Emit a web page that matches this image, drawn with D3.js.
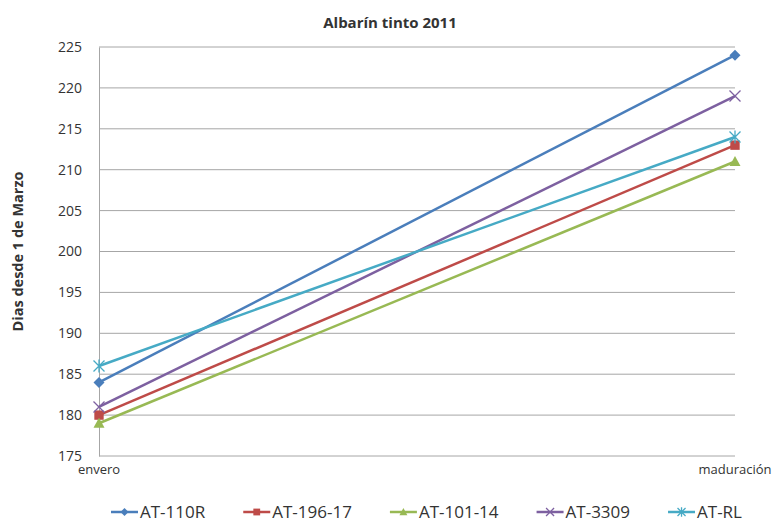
<!DOCTYPE html>
<html>
<head>
<meta charset="utf-8">
<script src="https://cdn.jsdelivr.net/npm/d3@7"></script>
<style>
  html, body { margin: 0; padding: 0; background: #fff; }
  svg { display: block; }
  text { font-family: "Open Sans", "DejaVu Sans", sans-serif; fill: #333; }
</style>
</head>
<body>
<svg id="chart" width="775" height="522"></svg>
<script>
// Phenology dates (days since 1 March) per rootstock
const categories = ["envero", "maduración"];
const seriesNames = ["AT-110R", "AT-196-17", "AT-101-14", "AT-3309", "AT-RL"];
const at110R  = [184, 224];
const at19617 = [180, 213];
const at10114 = [179, 211];
const at3309  = [181, 219];
const atRL    = [186, 214];
const yTicks = [175, 180, 185, 190, 195, 200, 205, 210, 215, 220, 225];
const colors = ["#4A7EBB", "#BE4B48", "#98B954", "#7D60A0", "#46AAC5"];
const markers = ["diamond", "square", "triangle", "cross", "star"];

const series = seriesNames.map((name, i) => ({
  name, color: colors[i], marker: markers[i],
  values: [at110R, at19617, at10114, at3309, atRL][i]
}));

const svg = d3.select("#chart");
const margin = { left: 99, right: 40, top: 47, bottom: 66 };
const W = 775, H = 522;

const x = d3.scalePoint().domain(categories)
  .range([margin.left, W - margin.right]);
const y = d3.scaleLinear().domain([175, 225])
  .range([H - margin.bottom, margin.top]);

// gridlines
svg.append("g").selectAll("line").data(yTicks.slice(1)).join("line")
  .attr("x1", margin.left).attr("x2", W - margin.right)
  .attr("y1", d => y(d)).attr("y2", d => y(d))
  .attr("stroke", "#a6a6a6").attr("stroke-width", 1);

// y axis
const yAxis = svg.append("g")
  .attr("transform", `translate(${margin.left},0)`)
  .call(d3.axisLeft(y).tickValues(yTicks).tickSize(0).tickPadding(17));
yAxis.select(".domain").attr("stroke", "#a6a6a6");
yAxis.selectAll("text").style("font-size", "14px").attr("fill", "#333")
  .style("font-family", "'Open Sans', sans-serif");

// x axis baseline and category labels
svg.append("line")
  .attr("x1", margin.left).attr("x2", W - margin.right)
  .attr("y1", y(175)).attr("y2", y(175))
  .attr("stroke", "#a6a6a6");
svg.append("g").selectAll("text").data(categories).join("text")
  .attr("x", d => x(d)).attr("y", y(175) + 18)
  .attr("text-anchor", "middle")
  .style("font-size", "13px")
  .text(d => d);

// lines
const line = d3.line().x((d, i) => x(categories[i])).y(d => y(d));
svg.append("g").selectAll("path").data(series).join("path")
  .attr("d", s => line(s.values))
  .attr("fill", "none")
  .attr("stroke", s => s.color)
  .attr("stroke-width", 2.5);

// marker shapes
function drawMarker(g, type, color, size) {
  const r = size / 2;
  if (type === "diamond") {
    g.append("path").attr("d", `M0,${-r}L${r},0L0,${r}L${-r},0Z`).attr("fill", color);
  } else if (type === "square") {
    g.append("rect").attr("x", -r * 0.85).attr("y", -r * 0.85)
      .attr("width", r * 1.7).attr("height", r * 1.7).attr("fill", color);
  } else if (type === "triangle") {
    g.append("path").attr("d", `M0,${-r}L${r},${r * 0.8}L${-r},${r * 0.8}Z`).attr("fill", color);
  } else if (type === "cross") {
    g.append("path").attr("d", `M${-r},${-r}L${r},${r}M${-r},${r}L${r},${-r}`)
      .attr("stroke", color).attr("stroke-width", 1.3);
  } else if (type === "star") {
    g.append("path").attr("d", `M${-r},${-r}L${r},${r}M${-r},${r}L${r},${-r}M0,${-r * 1.2}L0,${r * 1.2}`)
      .attr("stroke", color).attr("stroke-width", 1.3);
  }
}

series.forEach(s => {
  s.values.forEach((v, i) => {
    const g = svg.append("g").attr("transform", `translate(${x(categories[i])},${y(v)})`);
    drawMarker(g, s.marker, s.color, 11);
  });
});

// title
svg.append("text")
  .attr("x", 390).attr("y", 28)
  .attr("text-anchor", "middle")
  .style("font-size", "15px").style("font-weight", "bold")
  .attr("fill", "#000")
  .text("Albarín tinto 2011");

// y-axis title
svg.append("text")
  .attr("transform", `translate(23,${(y(175) + y(225)) / 2}) rotate(-90)`)
  .attr("text-anchor", "middle")
  .style("font-size", "14.5px").style("font-weight", "bold")
  .attr("fill", "#000")
  .text("Dias desde 1 de Marzo");

// legend
const legend = svg.append("g").attr("transform", "translate(111,512)");
let lx = 0;
series.forEach(s => {
  const g = legend.append("g").attr("transform", `translate(${lx},0)`);
  g.append("line").attr("x1", 0).attr("x2", 27).attr("y1", 0).attr("y2", 0)
    .attr("stroke", s.color).attr("stroke-width", 2.5);
  const m = g.append("g").attr("transform", "translate(13.5,0)");
  drawMarker(m, s.marker, s.color, 8);
  const t = g.append("text").attr("x", 29).attr("y", 6)
    .style("font-size", "17px").attr("fill", "#333").text(s.name);
  lx += 29 + t.node().getComputedTextLength() + 38;
});
</script>
</body>
</html>
